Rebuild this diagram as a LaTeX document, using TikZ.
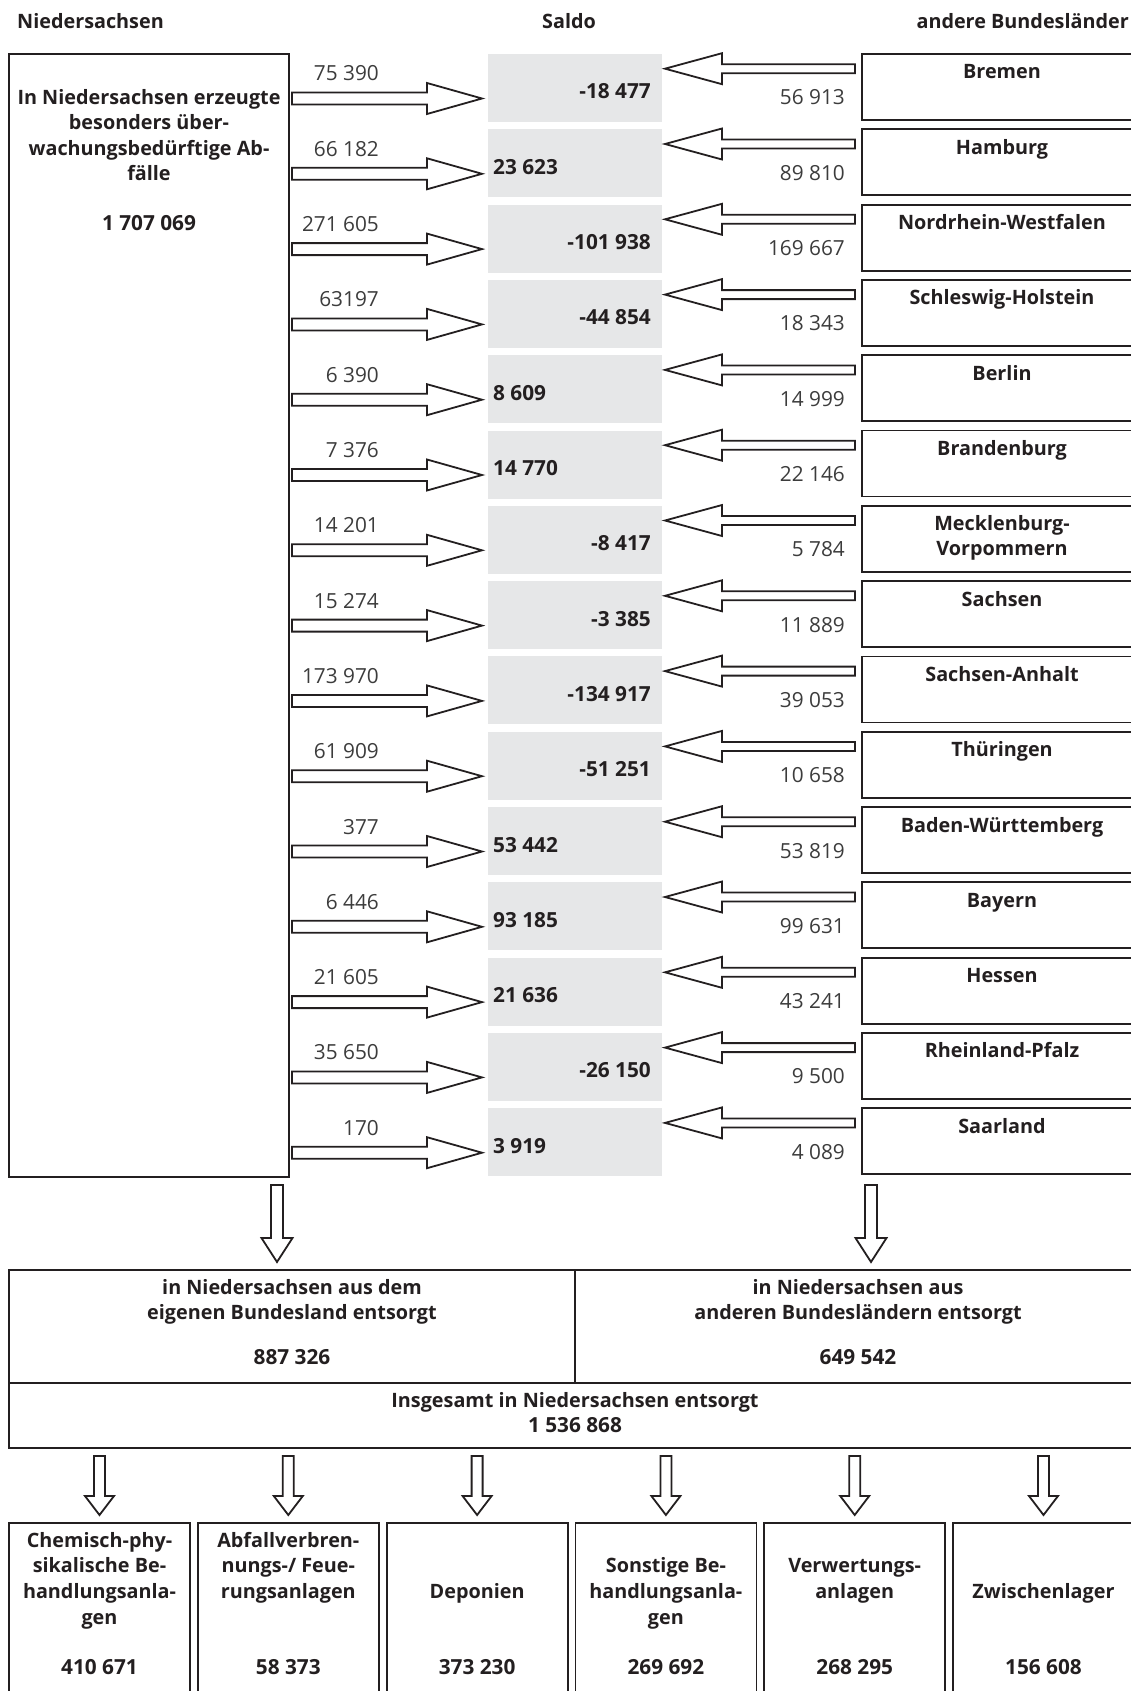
\documentclass[tikz,border=0pt]{standalone}
\usepackage{fontspec}
\setmainfont{Open Sans}
\usetikzlibrary{calc}
\definecolor{ink}{HTML}{231F20}
\definecolor{salfill}{HTML}{E6E7E8}
\definecolor{lightnum}{HTML}{3C3C3C}
\tikzset{
  frame/.style={draw=ink, line width=1.8pt, inner sep=0pt, outer sep=0pt, anchor=north west},
  salbox/.style={fill=salfill, inner sep=0pt, outer sep=0pt, anchor=north west, minimum width=174pt, minimum height=68pt},
  barrow/.style={draw=ink, line width=1.8pt, fill=white, line join=miter},
  bt/.style={font=\fontsize{19.8}{25}\selectfont\bfseries, text=ink, inner sep=0pt, anchor=base},
  bn/.style={font=\fontsize{20.8}{25}\selectfont\bfseries, text=ink, inner sep=0pt, anchor=base},
  lt/.style={font=\fontsize{20.8}{25}\selectfont, text=lightnum, inner sep=0pt, anchor=base},
}
\begin{document}
\begin{tikzpicture}[x=1pt,y=-1pt]
\useasboundingbox (0,0) rectangle (1131,1691);
\clip (0,0) rectangle (1131,1691);
% headers
\node[bt, anchor=base west] (hNds) at (17,29) {Niedersachsen};
\node[bt] (hSal) at (569,29) {Saldo};
\node[bt, anchor=base east] (hAnd) at (1129,29) {andere Bundesländer};
% left source box
\node[frame, minimum width=280pt, minimum height=1123pt] (nds) at (9,54) {};
\foreach \l [count=\k from 0] in {In Niedersachsen erzeugte, besonders über-, wachungsbedürftige Ab-, fälle}
  \node[bt] (ndsl\k) at (149,{105+25*\k}) {\l};
\node[bn] (ndsv) at (149,230) {1 707 069};
% rows
\foreach \i/\outv/\sal/\pos/\inv/\land in {
 0/75 390/-18 477/0/56 913/Bremen,
 1/66 182/23 623/1/89 810/Hamburg,
 2/271 605/-101 938/0/169 667/Nordrhein-Westfalen,
 3/63197/-44 854/0/18 343/Schleswig-Holstein,
 4/6 390/8 609/1/14 999/Berlin,
 5/7 376/14 770/1/22 146/Brandenburg,
 6/14 201/-8 417/0/5 784/Mecklenburg-,
 7/15 274/-3 385/0/11 889/Sachsen,
 8/173 970/-134 917/0/39 053/Sachsen-Anhalt,
 9/61 909/-51 251/0/10 658/Thüringen,
 10/377/53 442/1/53 819/Baden-Württemberg,
 11/6 446/93 185/1/99 631/Bayern,
 12/21 605/21 636/1/43 241/Hessen,
 13/35 650/-26 150/0/9 500/Rheinland-Pfalz,
 14/170/3 919/1/4 089/Saarland}{
  \pgfmathsetmacro\T{54+\i*75.3}
  \node[salbox] (sal\i) at (488,\T) {};
  \ifnum\pos=1
    \node[bn, anchor=base west] (salv\i) at (493,{\T+45}) {\sal};
  \else
    \node[bn, anchor=base east] (salv\i) at (651,{\T+45}) {\sal};
  \fi
  \node[frame, minimum width=280pt, minimum height=66pt] (land\i) at (862,\T) {};
  \node[bt] (ll\i) at (1002,{\T+25}) {\land};
  % outgoing arrow
  \coordinate (ra\i) at (292,{\T+44.5});
  \draw[barrow] (ra\i) ++(0,-6) -- ++(135,0) -- ++(0,-9.5) -- ++(55,15.5) -- ++(-55,15.5) -- ++(0,-9.5) -- ++(-135,0) -- cycle;
  \node[lt, anchor=base east] (on\i) at (379,{\T+27}) {\outv};
  % incoming arrow
  \coordinate (la\i) at (665,{\T+14.7});
  \draw[barrow] (la\i) -- ++(57,-15.5) -- ++(0,11) -- ++(133,0) -- ++(0,9) -- ++(-133,0) -- ++(0,11) -- cycle;
  \node[lt, anchor=base east] (in\i) at (845,{\T+51}) {\inv};
}
\node[bt] (ll6b) at (1002,{54+6*75.3+50}) {Vorpommern};
% big down arrows
\coordinate (dl) at (277,1185);
\coordinate (dr) at (871,1185);
\foreach \c in {dl,dr}
  \draw[barrow] (\c) ++(-6,0) -- ++(0,53) -- ++(-9.5,0) -- ++(15.5,24) -- ++(15.5,-24) -- ++(-9.5,0) -- ++(0,-53) -- cycle;
% middle boxes
\node[frame, minimum width=566pt, minimum height=113pt] (own) at (9,1270) {};
\node[frame, minimum width=567pt, minimum height=113pt] (other) at (575,1270) {};
\node[frame, minimum width=1133pt, minimum height=65pt] (total) at (9,1383) {};
\node[bt] (ownl1) at (292,1294) {in Niedersachsen aus dem};
\node[bt] (ownl2) at (292,1319) {eigenen Bundesland entsorgt};
\node[bn] (ownv) at (292,1364) {887 326};
\node[bt] (othl1) at (858,1294) {in Niedersachsen aus};
\node[bt] (othl2) at (858,1319) {anderen Bundesländern entsorgt};
\node[bn] (othv) at (858,1364) {649 542};
\node[bt] (totl) at (575,1407) {Insgesamt in Niedersachsen entsorgt};
\node[bn] (totv) at (575,1432) {1 536 868};
% small down arrows and facility boxes
\foreach \k in {0,...,5}{
  \pgfmathsetmacro\cx{99.5+188.8*\k}
  \coordinate (sa\k) at (\cx,1456);
  \draw[barrow] (sa\k) ++(-5.5,0) -- ++(0,40) -- ++(-9,0) -- ++(14.5,19) -- ++(14.5,-19) -- ++(-9,0) -- ++(0,-40) -- cycle;
  \node[frame, minimum width=181pt, minimum height=200pt] (fac\k) at ({9+188.8*\k},1523) {};
}
\foreach \k/\first/\lines/\val in {
  0/0/{Chemisch-phy-,sikalische Be-,handlungsanla-,gen}/410 671,
  1/0/{Abfallverbren-,nungs-/ Feue-,rungsanlagen}/58 373,
  2/2/{Deponien}/373 230,
  3/1/{Sonstige Be-,handlungsanla-,gen}/269 692,
  4/1/{Verwertungs-,anlagen}/268 295,
  5/2/{Zwischenlager}/156 608}{
  \pgfmathsetmacro\cx{99.5+188.8*\k}
  \foreach \l [count=\j from \first] in \lines
    \node[bt] (facl\k-\j) at (\cx,{1547+25.7*\j}) {\l};
  \node[bn] (facv\k) at (\cx,1674) {\val};
}
\end{tikzpicture}
\end{document}
